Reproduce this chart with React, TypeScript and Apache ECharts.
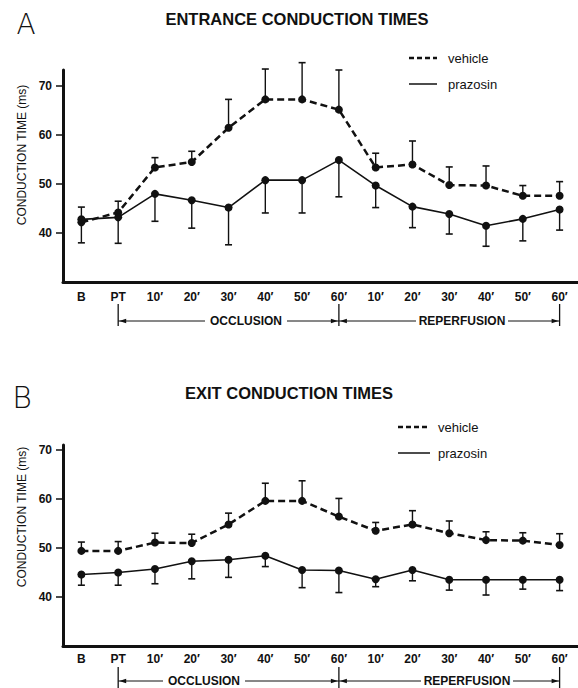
import React, { useEffect, useRef } from "react";
import * as echarts from "echarts";

// ---- data ----
const categories = ["B", "PT", "O10", "O20", "O30", "O40", "O50", "O60", "R10", "R20", "R30", "R40", "R50", "R60"];
const tickLabels = ["B", "PT", "10′", "20′", "30′", "40′", "50′", "60′", "10′", "20′", "30′", "40′", "50′", "60′"];
const yTicks = [40, 50, 60, 70];

const entranceVehicle = [42.2, 44.2, 53.4, 54.5, 61.5, 67.3, 67.3, 65.2, 53.4, 54.0, 49.8, 49.7, 47.6, 47.6];
const entranceVehicleSE = [3.1, 2.3, 2.0, 2.2, 5.8, 6.2, 7.5, 8.1, 2.9, 4.8, 3.7, 4.0, 2.1, 2.9];
const entrancePrazosin = [42.8, 43.2, 48.0, 46.7, 45.2, 50.8, 50.8, 54.9, 49.7, 45.4, 43.9, 41.5, 42.9, 44.8];
const entrancePrazosinSE = [4.8, 5.3, 5.6, 5.7, 7.6, 6.7, 6.7, 7.5, 4.5, 4.3, 4.1, 4.2, 4.5, 4.2];

const exitVehicle = [49.4, 49.4, 51.1, 51.0, 54.8, 59.6, 59.6, 56.4, 53.5, 54.8, 53.0, 51.6, 51.5, 50.6];
const exitVehicleSE = [1.8, 1.9, 1.9, 1.8, 2.3, 3.6, 4.1, 3.7, 1.7, 2.8, 2.5, 1.7, 1.6, 2.3];
const exitPrazosin = [44.6, 45.0, 45.7, 47.3, 47.6, 48.4, 45.5, 45.4, 43.6, 45.5, 43.5, 43.5, 43.5, 43.5];
const exitPrazosinSE = [2.2, 2.6, 3.0, 3.6, 3.6, 2.2, 3.6, 4.5, 1.5, 2.2, 2.1, 3.1, 1.9, 2.2];

const FONT = "'Liberation Sans', Arial, Helvetica, sans-serif";
const INK = "#111";

const errorRender = (dir: number) => (params: any, api: any) => {
  const i = api.value(0);
  const m = api.value(1);
  const e = api.value(2);
  const p0 = api.coord([i, m]);
  const p1 = api.coord([i, m + dir * e]);
  const cap = 3.5;
  return {
    type: "group",
    children: [
      { type: "line", shape: { x1: p0[0], y1: p0[1], x2: p1[0], y2: p1[1] }, style: { stroke: INK, lineWidth: 1.4 } },
      { type: "line", shape: { x1: p1[0] - cap, y1: p1[1], x2: p1[0] + cap, y2: p1[1] }, style: { stroke: INK, lineWidth: 1.6 } },
    ],
  };
};

function panelSeries(g: number, veh: number[], vehSE: number[], praz: number[], prazSE: number[]) {
  return [
    {
      type: "custom",
      xAxisIndex: g,
      yAxisIndex: g,
      clip: false,
      z: 1,
      renderItem: errorRender(1),
      data: veh.map((v, i) => [i, v, vehSE[i]]),
    },
    {
      type: "custom",
      xAxisIndex: g,
      yAxisIndex: g,
      clip: false,
      z: 1,
      renderItem: errorRender(-1),
      data: praz.map((v, i) => [i, v, prazSE[i]]),
    },
    {
      name: "vehicle",
      type: "line",
      xAxisIndex: g,
      yAxisIndex: g,
      data: veh,
      symbol: "circle",
      symbolSize: 8,
      z: 3,
      lineStyle: { color: INK, width: 2.5, type: [7, 4] },
      itemStyle: { color: INK },
    },
    {
      name: "prazosin",
      type: "line",
      xAxisIndex: g,
      yAxisIndex: g,
      data: praz,
      symbol: "circle",
      symbolSize: 8,
      z: 3,
      lineStyle: { color: INK, width: 1.6, type: "solid" },
      itemStyle: { color: INK },
    },
  ];
}

function xAxis(g: number, margin: number) {
  return {
    type: "category",
    gridIndex: g,
    data: categories,
    boundaryGap: true,
    axisLine: { lineStyle: { color: INK, width: 3 } },
    axisTick: { alignWithLabel: true, length: 5, lineStyle: { color: INK, width: 1.5 } },
    axisLabel: {
      interval: 0,
      margin,
      formatter: (_v: string, idx: number) => tickLabels[idx],
      fontSize: 12,
      fontWeight: "bold",
      color: INK,
      fontFamily: FONT,
    },
    splitLine: { show: false },
  };
}

function yAxis(g: number, max: number) {
  return {
    type: "value",
    gridIndex: g,
    min: 30,
    max,
    axisLine: { show: true, lineStyle: { color: INK, width: 3 } },
    axisTick: { show: true, length: 7, customValues: yTicks, lineStyle: { color: INK, width: 1.5 } },
    axisLabel: { customValues: yTicks, margin: 11, fontSize: 12, fontWeight: "bold", color: INK, fontFamily: FONT },
    splitLine: { show: false },
  };
}

export default function App() {
  const ref = useRef<HTMLDivElement>(null);
  useEffect(() => {
    if (!ref.current) return;
    const chart = echarts.init(ref.current, undefined, { renderer: "svg" });
    chart.setOption({
      animation: false,
      backgroundColor: "#fff",
      grid: [
        { left: 63, top: 70, width: 518, height: 212 },
        { left: 63, top: 445, width: 518, height: 201 },
      ],
      xAxis: [xAxis(0, 9), xAxis(1, 7)],
      yAxis: [yAxis(0, 73.3), yAxis(1, 71)],
      series: [
        ...panelSeries(0, entranceVehicle, entranceVehicleSE, entrancePrazosin, entrancePrazosinSE),
        ...panelSeries(1, exitVehicle, exitVehicleSE, exitPrazosin, exitPrazosinSE),
      ],
    });

    const px = (g: number, idx: number) => chart.convertToPixel({ xAxisIndex: g } as any, idx) as number;

    const txt = (x: number, y: number, text: string, size: number, extra: any = {}) => ({
      type: "text",
      x,
      y,
      silent: true,
      ...extra,
      style: {
        text,
        fontSize: size,
        fontFamily: FONT,
        fill: INK,
        align: "center",
        verticalAlign: "middle",
        ...(extra.style || {}),
      },
    });
    const ln = (x1: number, y1: number, x2: number, y2: number, w = 1.3, dash?: number[]) => ({
      type: "line",
      silent: true,
      shape: { x1, y1, x2, y2 },
      style: { stroke: INK, lineWidth: w, lineDash: dash },
    });
    const arrow = (x: number, y: number, dir: number) => ({
      type: "polygon",
      silent: true,
      shape: { points: [[x, y], [x - dir * 7, y - 2.2], [x - dir * 7, y + 2.2]] },
      style: { fill: INK },
    });

    const els: any[] = [];
    // panel letters and titles
    els.push(txt(26, 24, "A", 28, { style: { fontFamily: "'DejaVu Sans', sans-serif", fontWeight: 200 } }));
    els.push(txt(297, 19, "ENTRANCE CONDUCTION TIMES", 16.5, { style: { fontWeight: "bold" } }));
    els.push(txt(22, 397, "B", 30, { style: { fontFamily: "'DejaVu Sans', sans-serif", fontWeight: 200 } }));
    els.push(txt(289, 393, "EXIT CONDUCTION TIMES", 16.5, { style: { fontWeight: "bold" } }));

    // y-axis names
    els.push(txt(22, 155, "CONDUCTION TIME (ms)", 12, { rotation: Math.PI / 2 }));
    els.push(txt(22, 517, "CONDUCTION TIME (ms)", 12, { rotation: Math.PI / 2 }));

    // legends
    const legend = (lx1: number, lx2: number, tx: number, y1: number, y2: number) => {
      els.push(ln(lx1, y1, lx2, y1, 2.5, [5, 3]));
      els.push(txt(tx, y1, "vehicle", 13, { style: { align: "left" } }));
      els.push(ln(lx1, y2, lx2, y2, 1.5));
      els.push(txt(tx, y2, "prazosin", 13, { style: { align: "left" } }));
    };
    legend(409, 437, 448, 58, 84);
    legend(398, 430, 438, 427, 453);

    // occlusion / reperfusion annotations
    const annot = (g: number, y: number, top: number, bottom: number, occC: number, repC: number) => {
      const xPT = px(g, 1);
      const x60 = px(g, 7);
      const xEnd = px(g, 13);
      els.push(ln(xPT, top, xPT, bottom, 1.3));
      els.push(ln(x60, top, x60, bottom, 1.3));
      els.push(ln(xEnd, top, xEnd, bottom, 1.3));
      const occW = 74;
      const repW = 84;
      els.push(ln(xPT, y, occC - occW / 2 - 4, y, 1));
      els.push(ln(occC + occW / 2 + 4, y, x60, y, 1));
      els.push(ln(x60, y, repC - repW / 2 - 4, y, 1));
      els.push(ln(repC + repW / 2 + 4, y, xEnd, y, 1));
      els.push(arrow(xPT + 1, y, -1));
      els.push(arrow(x60 - 1, y, 1));
      els.push(arrow(x60 + 1, y, -1));
      els.push(arrow(xEnd - 1, y, 1));
      els.push(txt(occC, y, "OCCLUSION", 12, { style: { fontWeight: "bold" } }));
      els.push(txt(repC, y, "REPERFUSION", 12, { style: { fontWeight: "bold" } }));
    };
    annot(0, 321, 304, 326, 246, 462);
    annot(1, 681, 667, 688, 204, 467);

    chart.setOption({ graphic: els });

    return () => chart.dispose();
  }, []);

  return (
    <div
      ref={ref}
      style={{ position: "absolute", left: 0, top: 0, width: 578, height: 688, overflow: "hidden", background: "#fff" }}
    />
  );
}
